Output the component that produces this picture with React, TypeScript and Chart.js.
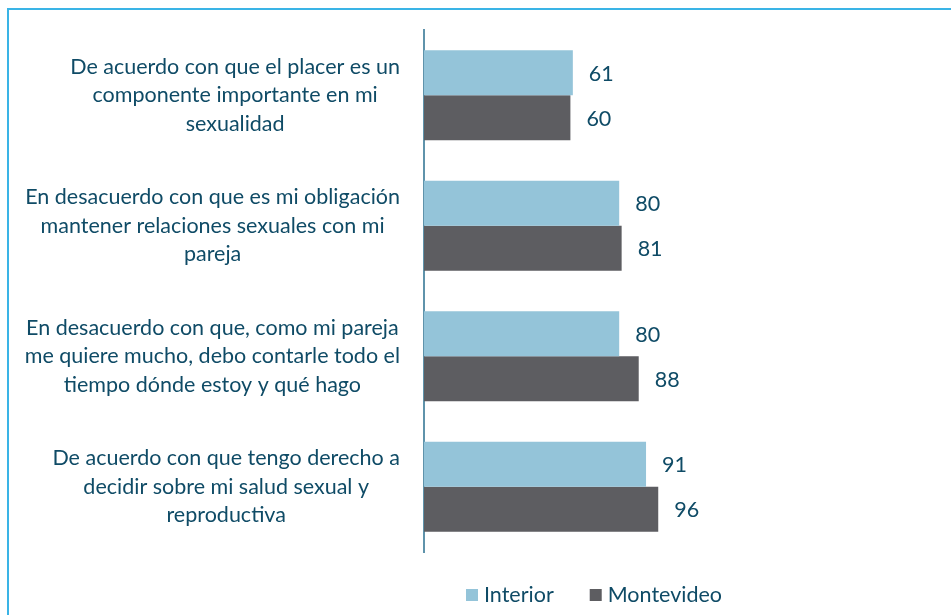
import React, { useEffect, useRef } from "react";
import { Chart, registerables } from "chart.js";

Chart.register(...registerables);

const categories: string[][] = [
  ["De acuerdo con que el placer es un", "componente importante en mi", "sexualidad"],
  ["En desacuerdo con que es mi obligación", "mantener relaciones sexuales con mi", "pareja"],
  ["En desacuerdo con que, como mi pareja", "me quiere mucho, debo contarle todo el", "tiempo dónde estoy y qué hago"],
  ["De acuerdo con que tengo derecho a", "decidir sobre mi salud sexual y", "reproductiva"],
];
const interiorValues = [61, 80, 80, 91];
const montevideoValues = [60, 81, 88, 96];
const seriesNames = ["Interior", "Montevideo"];

const TEXT_COLOR = "#0f4b66";
const FONT = "Lato, 'Open Sans', sans-serif";

const labelsPlugin = {
  id: "customLabels",
  afterDatasetsDraw(chart: any) {
    const ctx = chart.ctx;
    const yScale = chart.scales.y;
    ctx.save();
    ctx.fillStyle = TEXT_COLOR;
    // category labels
    ctx.font = `21.5px ${FONT}`;
    ctx.textBaseline = "middle";
    ctx.textAlign = "center";
    const lineH = 28.5;
    categories.forEach((lines, i) => {
      const cy = yScale.getPixelForValue(i);
      const blockW = Math.max(...lines.map((l) => ctx.measureText(l).width));
      const cx = 400 - blockW / 2;
      lines.forEach((l, j) => {
        const y = cy + (j - (lines.length - 1) / 2) * lineH;
        ctx.fillText(l, cx, y);
      });
    });
    // data labels
    ctx.font = `21.5px ${FONT}`;
    ctx.textAlign = "left";
    chart.data.datasets.forEach((ds: any, di: number) => {
      const meta = chart.getDatasetMeta(di);
      meta.data.forEach((bar: any, i: number) => {
        ctx.fillText(String(ds.data[i]), bar.x + 16, bar.y + 1);
      });
    });
    // legend
    const legendY = 595;
    let x = 466;
    ctx.font = `21.5px ${FONT}`;
    chart.data.datasets.forEach((ds: any) => {
      ctx.fillStyle = ds.backgroundColor;
      ctx.fillRect(x, legendY - 6, 12, 12);
      ctx.fillStyle = TEXT_COLOR;
      ctx.fillText(ds.label, x + 18, legendY);
      x += 18 + ctx.measureText(ds.label).width + 36;
    });
    ctx.restore();
  },
};

export default function App() {
  const ref = useRef<HTMLCanvasElement>(null);
  useEffect(() => {
    document.body.style.margin = "0";
    const chart = new Chart(ref.current!, {
      type: "bar",
      data: {
        labels: categories.map((c) => c.join(" ")),
        datasets: [
          {
            label: seriesNames[0],
            data: interiorValues,
            backgroundColor: "#94c4d9",
            categoryPercentage: 0.69,
            barPercentage: 1,
          },
          {
            label: seriesNames[1],
            data: montevideoValues,
            backgroundColor: "#5d5d61",
            categoryPercentage: 0.69,
            barPercentage: 1,
          },
        ],
      },
      options: {
        indexAxis: "y",
        responsive: false,
        animation: false,
        layout: { padding: { left: 424, right: 39, top: 30, bottom: 63 } },
        plugins: { legend: { display: false }, tooltip: { enabled: false } },
        scales: {
          x: { display: false, min: 0, max: 200 },
          y: {
            grid: { display: false, drawTicks: false },
            ticks: { display: false },
            border: { display: true, color: "#5f93ab", width: 2 },
          },
        },
      },
      plugins: [labelsPlugin],
    } as any);
    return () => chart.destroy();
  }, []);
  return (
    <div style={{ position: "relative", width: 951, height: 615, background: "#fff" }}>
      <div
        style={{
          position: "absolute",
          left: 7,
          top: 8,
          right: 0,
          bottom: 0,
          borderTop: "2px solid #3ab4e6",
          borderLeft: "2px solid #3ab4e6",
        }}
      />
      <canvas ref={ref} width={951} height={615} style={{ position: "absolute", left: 0, top: 0 }} />
    </div>
  );
}
